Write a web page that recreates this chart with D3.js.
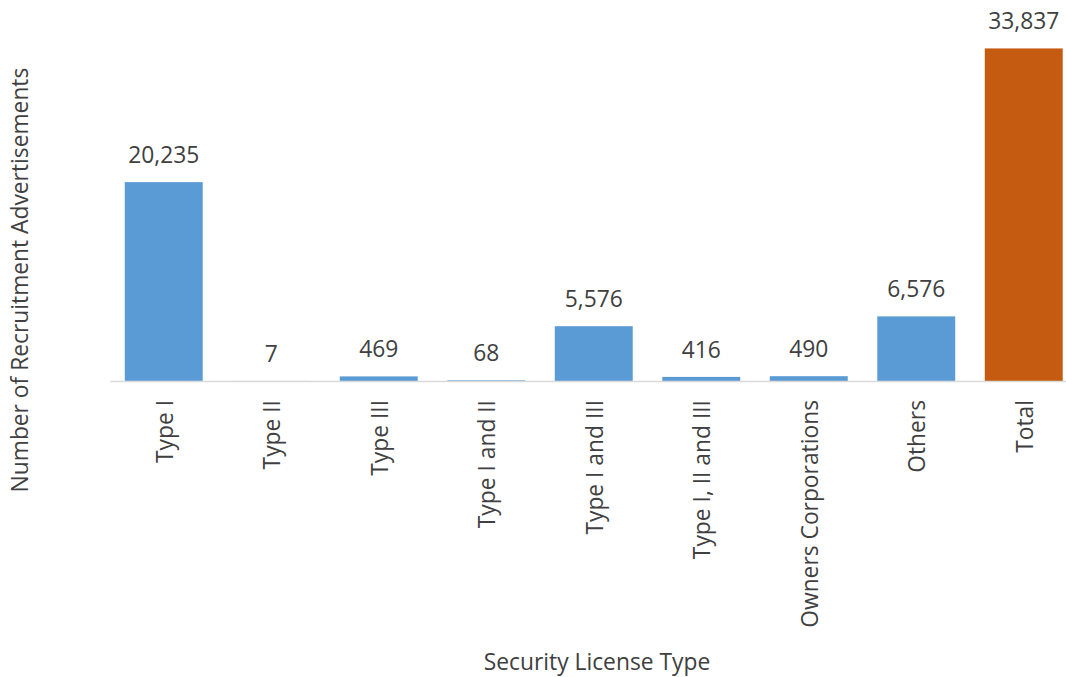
<!DOCTYPE html>
<html>
<head>
<meta charset="utf-8">
<script src="https://cdn.jsdelivr.net/npm/d3@7"></script>
<style>
  body { margin: 0; background: #fff; }
  text { font-family: "Open Sans", sans-serif; }
</style>
</head>
<body>
<svg width="1066" height="677"></svg>
<script>
// chart data
const categories = ["Type I", "Type II", "Type III", "Type I and II", "Type I and III",
  "Type I, II and III", "Owners Corporations", "Others", "Total"];
const values = [20235, 7, 469, 68, 5576, 416, 490, 6576, 33837];

const svg = d3.select("svg");
const fontSize = 22.8;

// scales
const x = d3.scaleBand()
  .domain(categories)
  .range([110, 1077.5])
  .paddingInner(0.275)
  .paddingOuter(0.1375);

const y = d3.scaleLinear()
  .domain([0, 35000])
  .range([381, 37]);

const fmt = d3.format(",");

// bars
svg.append("g")
  .selectAll("rect")
  .data(values)
  .join("rect")
  .attr("x", (d, i) => x(categories[i]))
  .attr("y", (d) => y(d))
  .attr("width", x.bandwidth())
  .attr("height", (d) => y(0) - y(d))
  .attr("fill", (d, i) => (categories[i] === "Total" ? "#c55a11" : "#5b9bd5"));

// value labels
svg.append("g")
  .selectAll("text")
  .data(values)
  .join("text")
  .attr("x", (d, i) => x(categories[i]) + x.bandwidth() / 2)
  .attr("y", (d) => y(d) - 19)
  .attr("text-anchor", "middle")
  .attr("font-size", fontSize)
  .attr("fill", "#404040")
  .text((d) => fmt(d));

// x axis
const xAxis = svg.append("g")
  .attr("transform", `translate(0,${y(0)})`)
  .call(d3.axisBottom(x).tickSize(0).tickPadding(0));
xAxis.select(".domain").attr("stroke", "#d9d9d9").attr("stroke-width", 1.5);
xAxis.selectAll("text")
  .attr("font-size", fontSize)
  .attr("fill", "#404040")
  .attr("text-anchor", "end")
  .attr("transform", "rotate(-90)")
  .attr("x", -19)
  .attr("y", 0)
  .attr("dy", "0.4em");

// axis titles
svg.append("text")
  .attr("x", 597)
  .attr("y", 670)
  .attr("text-anchor", "middle")
  .attr("font-size", fontSize)
  .attr("fill", "#404040")
  .text("Security License Type");

svg.append("text")
  .attr("transform", "translate(28,280) rotate(-90)")
  .attr("text-anchor", "middle")
  .attr("font-size", fontSize)
  .attr("fill", "#404040")
  .text("Number of Recruitment Advertisements");
</script>
</body>
</html>
